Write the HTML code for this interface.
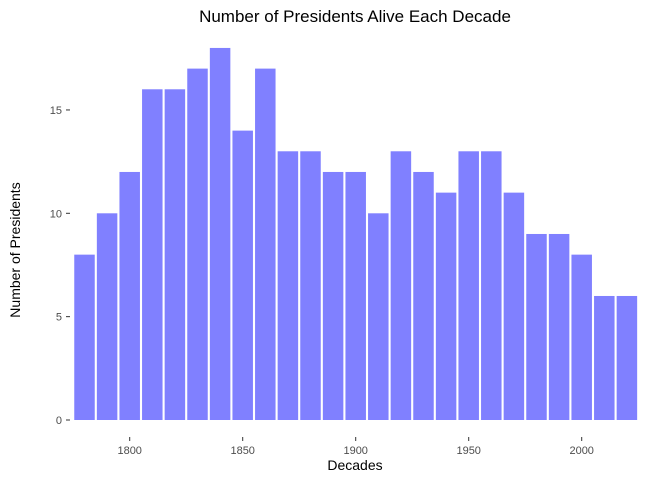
<!DOCTYPE html>
<html><head><meta charset="utf-8"><style>
body{margin:0;background:#fff;font-family:"Liberation Sans",Arial,sans-serif}
</style></head><body>
<svg width="672" height="480" xmlns="http://www.w3.org/2000/svg">
<text x="355" y="22" text-anchor="middle" font-size="17" fill="#000">Number of Presidents Alive Each Decade</text>
<text x="355" y="470" text-anchor="middle" font-size="14" fill="#000">Decades</text>
<text transform="translate(20,250) rotate(-90)" text-anchor="middle" font-size="14" fill="#000">Number of Presidents</text>
<g id="bars"></g><g id="axes"></g>
</svg>
<script>
const decades=[1780,1790,1800,1810,1820,1830,1840,1850,1860,1870,1880,1890,1900,1910,1920,1930,1940,1950,1960,1970,1980,1990,2000,2010,2020];
const counts=[8,10,12,16,16,17,18,14,17,13,13,12,12,10,13,12,11,13,13,11,9,9,8,6,6];
const yTicks=[0,5,10,15];
const xTicks=[1800,1850,1900,1950,2000];
const NS="http://www.w3.org/2000/svg";
const x=v=>129.7+(v-1800)*2.26;
const y=v=>420-v*20.67;
const bw=20.5;
const bars=document.getElementById('bars'),axes=document.getElementById('axes');
function mk(t,a,p){const e=document.createElementNS(NS,t);for(const k in a)e.setAttribute(k,a[k]);p.appendChild(e);return e;}
decades.forEach((d,i)=>{
 const r=mk('rect',{x:x(d)-bw/2,y:y(counts[i]),width:bw,height:y(0)-y(counts[i]),fill:'#8080ff'},bars);
 
 
});
yTicks.forEach(v=>{
 const l=mk('line',{x1:66,x2:70,y1:y(v),y2:y(v),stroke:'#333','stroke-width':1},axes);
 
 
 const t=mk('text',{x:62,y:y(v)+4,'text-anchor':'end','font-size':11,fill:'#4d4d4d'},axes);
 t.textContent=v;
 
 
});
xTicks.forEach(v=>{
 const l=mk('line',{x1:x(v),x2:x(v),y1:437,y2:441,stroke:'#333','stroke-width':1},axes);
 
 
 const t=mk('text',{x:x(v),y:454,'text-anchor':'middle','font-size':11,fill:'#4d4d4d'},axes);
 t.textContent=v;
 
 
});
</script>
</body></html>
